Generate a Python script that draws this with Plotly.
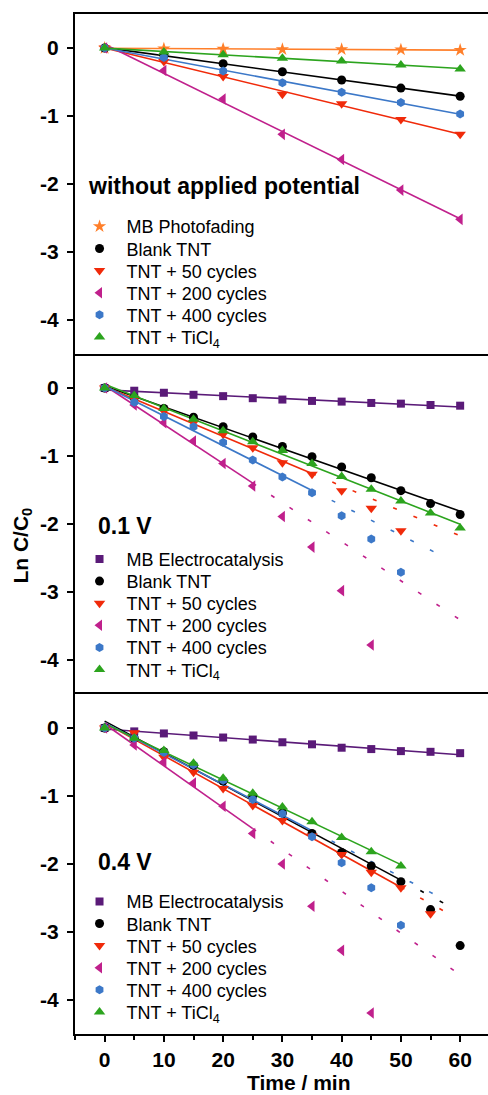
import numpy as np
import plotly.graph_objects as go
from plotly.subplots import make_subplots

# ---------------- data ----------------
t10 = [0, 10, 20, 30, 40, 50, 60]
t5 = [0, 5, 10, 15, 20, 25, 30, 35, 40, 45, 50, 55, 60]

# Panel 1: without applied potential
p1_photofading = [0, -0.01, -0.015, -0.02, -0.02, -0.025, -0.03]
p1_blank = [0, -0.11, -0.23, -0.35, -0.47, -0.59, -0.71]
p1_c50 = [0, -0.20, -0.42, -0.68, -0.82, -1.05, -1.27]
p1_c200 = [0, -0.33, -0.75, -1.27, -1.64, -2.09, -2.52]
p1_c400 = [0, -0.14, -0.34, -0.51, -0.65, -0.80, -0.97]
p1_ticl4 = [0, -0.06, -0.10, -0.15, -0.19, -0.25, -0.31]

# Panel 2: 0.1 V
p2_electro = [0, -0.04, -0.07, -0.10, -0.12, -0.15, -0.17, -0.19, -0.20, -0.22, -0.23, -0.25, -0.26]
p2_blank = [0, -0.14, -0.30, -0.43, -0.57, -0.72, -0.86, -1.01, -1.16, -1.32, -1.51, -1.70, -1.86]
p2_c50 = [0, -0.16, -0.34, -0.51, -0.68, -0.88, -1.10, -1.27, -1.51, -1.77, -2.10]
p2_c200 = [0, -0.25, -0.51, -0.78, -1.11, -1.44, -1.89, -2.34, -2.98, -3.78]
p2_c400 = [0, -0.21, -0.42, -0.57, -0.80, -1.06, -1.31, -1.54, -1.88, -2.22, -2.71]
p2_ticl4 = [0, -0.11, -0.30, -0.46, -0.63, -0.79, -0.92, -1.11, -1.30, -1.49, -1.66, -1.84, -2.06]

# Panel 3: 0.4 V
p3_electro = [0, -0.05, -0.08, -0.11, -0.14, -0.17, -0.21, -0.24, -0.29, -0.31, -0.34, -0.35, -0.37]
p3_blank = [0, -0.15, -0.35, -0.55, -0.78, -1.00, -1.25, -1.55, -1.83, -2.03, -2.26, -2.67, -3.20]
p3_c50 = [0, -0.07, -0.43, -0.65, -0.89, -1.14, -1.36, -1.59, -1.86, -2.12, -2.35, -2.73]
p3_c200 = [0, -0.25, -0.50, -0.81, -1.15, -1.55, -2.00, -2.62, -3.27, -4.19]
p3_c400 = [0, -0.15, -0.36, -0.54, -0.77, -1.05, -1.26, -1.60, -1.98, -2.35, -2.90]
p3_ticl4 = [0, -0.15, -0.33, -0.52, -0.74, -0.96, -1.16, -1.38, -1.61, -1.82, -2.03]

names = ["MB Photofading", "MB Electrocatalysis", "Blank TNT", "TNT + 50 cycles",
         "TNT + 200 cycles", "TNT + 400 cycles", "TNT + TiCl<sub>4</sub>"]
panel_labels = ["without applied potential", "0.1 V", "0.4 V"]
y_tick_vals = [0, -1, -2, -3, -4]
y_tick_text = ["0", "-1", "-2", "-3", "-4"]
x_tick_vals = [0, 10, 20, 30, 40, 50, 60]

C_ORANGE = "#FF7F2A"
C_PURPLE = "#5A1A78"
C_BLACK = "#000000"
C_RED = "#F02A0A"
C_MAG = "#C0208C"
C_BLUE = "#3C78C8"
C_GREEN = "#2CA41E"

# (row, name, x, y, color, symbol, size, fit_end, ext_end)
# linear fit over x <= fit_end (solid), extrapolated dashed up to ext_end
series = [
    (1, names[0], t10, p1_photofading, C_ORANGE, "star", 10, 60, None),
    (1, names[2], t10, p1_blank, C_BLACK, "circle", 9, 60, None),
    (1, names[3], t10, p1_c50, C_RED, "triangle-down", 10, 60, None),
    (1, names[4], t10, p1_c200, C_MAG, "triangle-left", 10, 60, None),
    (1, names[5], t10, p1_c400, C_BLUE, "hexagon", 9, 60, None),
    (1, names[6], t10, p1_ticl4, C_GREEN, "triangle-up", 10, 60, None),

    (2, names[1], t5, p2_electro, C_PURPLE, "square", 8, 60, None),
    (2, names[2], t5, p2_blank, C_BLACK, "circle", 9, 60, None),
    (2, names[3], t5[:len(p2_c50)], p2_c50, C_RED, "triangle-down", 10, 35, 60),
    (2, names[4], t5[:len(p2_c200)], p2_c200, C_MAG, "triangle-left", 10, 25, 60),
    (2, names[5], t5[:len(p2_c400)], p2_c400, C_BLUE, "hexagon", 9, 35, 57.5),
    (2, names[6], t5, p2_ticl4, C_GREEN, "triangle-up", 10, 60, None),

    (3, names[1], t5, p3_electro, C_PURPLE, "square", 8, 60, None),
    (3, names[2], t5, p3_blank, C_BLACK, "circle", 9, 50, 58),
    (3, names[3], t5[:len(p3_c50)], p3_c50, C_RED, "triangle-down", 10, 50, 58),
    (3, names[4], t5[:len(p3_c200)], p3_c200, C_MAG, "triangle-left", 10, 25, 60),
    (3, names[5], t5[:len(p3_c400)], p3_c400, C_BLUE, "hexagon", 9, 35, 58),
    (3, names[6], t5[:len(p3_ticl4)], p3_ticl4, C_GREEN, "triangle-up", 10, 50, None),
]

FONT = "Arial, Liberation Sans, sans-serif"

fig = make_subplots(rows=3, cols=1, shared_xaxes=True, vertical_spacing=0)

# fit lines first
for row, name, x, y, color, symbol, size, fit_end, ext_end in series:
    xa = np.array(x, dtype=float)
    ya = np.array(y, dtype=float)
    m = xa <= fit_end
    k, b = np.polyfit(xa[m], ya[m], 1)
    fig.add_trace(go.Scatter(x=[0, fit_end], y=[b, k * fit_end + b], mode="lines",
                             line=dict(color=color, width=1.6), showlegend=False,
                             hoverinfo="skip"), row=row, col=1)
    if ext_end is not None:
        fig.add_trace(go.Scatter(x=[fit_end, ext_end], y=[k * fit_end + b, k * ext_end + b],
                                 mode="lines", line=dict(color=color, width=1.6, dash="4px,18px"),
                                 showlegend=False, hoverinfo="skip"), row=row, col=1)

# layout geometry (pixels) for legend entries
PLOT_TOP, PLOT_H = 14, 1020
legend_first_px = {1: 226.7, 2: 559.3, 3: 901.7}
LEGEND_GAP_PX = 22.1

leg_common = dict(font=dict(family=FONT, size=18, color="black"), bgcolor="rgba(0,0,0,0)",
                  borderwidth=0, xanchor="left", yanchor="middle", x=-0.006, itemwidth=44,
                  tracegroupgap=0)
legend_layouts = {}
row_count = {1: 0, 2: 0, 3: 0}
leg_idx = 0

# markers, each with its own one-entry legend for exact row spacing
for row, name, x, y, color, symbol, size, fit_end, ext_end in series:
    leg_idx += 1
    lid = "legend" if leg_idx == 1 else "legend%d" % leg_idx
    ypx = legend_first_px[row] + LEGEND_GAP_PX * row_count[row]
    row_count[row] += 1
    legend_layouts[lid] = dict(y=1 - (ypx - PLOT_TOP) / PLOT_H, **leg_common)
    fig.add_trace(go.Scatter(x=x, y=y, mode="markers", name=name,
                             marker=dict(symbol=symbol, size=size, color=color, line=dict(width=0)),
                             legend=lid), row=row, col=1)

for r in (1, 2, 3):
    fig.update_yaxes(range=[-4.5, 0.5], tickvals=y_tick_vals, ticktext=y_tick_text,
                     ticks="outside", ticklen=6, tickwidth=2, tickcolor="black",
                     showline=True, linewidth=2, linecolor="black", mirror=False,
                     showgrid=False, zeroline=False,
                     tickfont=dict(family=FONT, size=21, color="black", weight="bold"),
                     ticklabelstandoff=4, row=r, col=1)
    fig.update_xaxes(range=[-5, 64.7], showgrid=False, zeroline=False, row=r, col=1)

# panel frame lines: row1 draws top + 1/2 boundary, row3 draws 2/3 boundary + bottom
fig.update_xaxes(showline=True, linewidth=2, linecolor="black", mirror=True,
                 showticklabels=False, ticks="", row=1, col=1)
fig.update_xaxes(showline=False, showticklabels=False, ticks="", row=2, col=1)
fig.update_xaxes(showline=True, linewidth=2, linecolor="black", mirror=True,
                 tickvals=x_tick_vals, ticks="outside", ticklen=6, tickwidth=2, tickcolor="black",
                 minor=dict(ticks="outside", ticklen=4, tickwidth=2, dtick=5, tick0=0, tickcolor="black"),
                 tickfont=dict(family=FONT, size=21, color="black", weight="bold"),
                 row=3, col=1)

fig.update_layout(
    width=488, height=1095,
    margin=dict(l=75, r=0, t=PLOT_TOP, b=1095 - PLOT_TOP - PLOT_H),
    paper_bgcolor="white", plot_bgcolor="white",
    font=dict(family=FONT, color="black"),
    showlegend=True,
    **legend_layouts,
)

label_y = [0.831, 0.498, 0.169]
label_x = [0.027, 0.05, 0.05]
for txt, yy, xx in zip(panel_labels, label_y, label_x):
    fig.add_annotation(text="<b>%s</b>" % txt, xref="paper", yref="paper", x=xx, y=yy,
                       xanchor="left", yanchor="middle", showarrow=False,
                       font=dict(family=FONT, size=23, color="black"))

fig.add_annotation(text="<b>Ln C/C<sub>0</sub></b>", xref="paper", yref="paper",
                   x=-0.128, y=0.479, textangle=-90, showarrow=False,
                   xanchor="center", yanchor="middle",
                   font=dict(family=FONT, size=21, color="black"))
fig.add_annotation(text="<b>Time / min</b>", xref="paper", yref="paper",
                   x=0.542, y=-0.048, showarrow=False, xanchor="center", yanchor="middle",
                   font=dict(family=FONT, size=21, color="black"))

fig.write_html("out.html", config={"displayModeBar": False},
               post_script="document.body.style.margin='0px';document.body.style.padding='0px';document.body.style.overflow='hidden';")
